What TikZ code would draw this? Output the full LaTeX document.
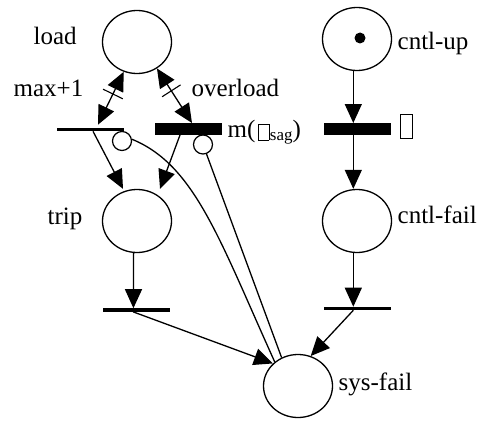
\documentclass[tikz,border=0pt]{standalone}
\usepackage{fontspec}
\setmainfont{Liberation Serif}
\usetikzlibrary{arrows.meta,shapes.geometric,calc}

% empty framed box standing in for a glyph the font could not show
\newcommand{\missingglyph}[2]{{\setlength{\fboxsep}{0pt}\setlength{\fboxrule}{0.9pt}\fbox{\rule{0pt}{#1}\hspace{#2}}}}

\begin{document}
\begin{tikzpicture}[x=1pt,y=-1pt,line width=1.3pt,
  place/.style={ellipse,draw,minimum width=69pt,minimum height=63pt,inner sep=0pt,line width=1.3pt},
  thinbar/.style={rectangle,fill=black,minimum width=67pt,minimum height=3.6pt,inner sep=0pt,outer sep=0pt},
  thickbar/.style={rectangle,fill=black,minimum width=67pt,minimum height=12pt,inner sep=0pt,outer sep=0pt},
  inhib/.style={circle,draw,fill=white,minimum size=19pt,inner sep=0pt,line width=1.2pt},
  tokendot/.style={circle,fill=black,minimum size=11pt,inner sep=0pt},
  arc/.style={-{Triangle[length=19pt,width=17pt]},line width=1.3pt},
  dblarc/.style={{Triangle[length=19pt,width=17pt]}-{Triangle[length=19pt,width=17pt]},line width=1.3pt},
  lbl/.style={font=\fontsize{25}{30}\selectfont,inner sep=0pt,anchor=base west}]

\fill[white] (0,0) rectangle (478,420);
\useasboundingbox (0,0) rectangle (478,420);

% places
\node[place] (load) at (137,42) {};
\node[place] (cntlup) at (357,39) {};
\node[place] (trip) at (137,221) {};
\node[place] (cntlfail) at (357,221) {};
\node[place] (sysfail) at (298,386) {};
\node[tokendot] (token) at (360,38) {};

% inhibitor arcs (drawn beneath the bars)
\node[inhib] (i1) at (122,141) {};
\node[inhib] (i2) at (203,144.5) {};
\draw (i1.10) .. controls (195,165) and (219.5,240) .. (sysfail.134);
\draw (i2) -- (sysfail.120);

% transitions
\node[thinbar] (t1) at (90,129.5) {};
\node[thickbar] (t2) at (188.5,129) {};
\node[thickbar] (t3) at (357,129) {};
\node[thinbar] (t4) at (136.5,310) {};
\node[thinbar] (t5) at (357,308.5) {};

% read/write arcs between load and the two upper transitions
\draw[dblarc] (load.246.6) -- ([xshift=8pt,yshift=3pt]t1.north)
  coordinate[pos=0.42] (m1);
\draw[dblarc] (load.307.6) -- ([xshift=3.5pt]t2.north)
  coordinate[pos=0.41] (m2);
\draw[line width=1.1pt] ($(m1)!11pt!90:(load.246.6)$) -- ($(m1)!11pt!-90:(load.246.6)$);
\draw[line width=1.1pt] ($(m2)!11pt!90:(load.307.6)$) -- ($(m2)!11pt!-90:(load.307.6)$);

% ordinary arcs
\draw[arc] ([xshift=3pt]t1.south) -- ([xshift=-14pt]trip.north);
\draw[arc] ([xshift=-8.5pt]t2.south) -- ([xshift=23pt]trip.north);
\draw[arc] ([xshift=-3.4pt]trip.south) -- ([xshift=-3.1pt]t4.north);
\draw[arc] ([xshift=-3.5pt]t4.south) -- (sysfail.138.5);
\draw[arc] ([xshift=-3.7pt]cntlup.south) -- ([xshift=-3.7pt]t3.north);
\draw[arc] ([xshift=-3.7pt]t3.south) -- ([xshift=-3.7pt]cntlfail.north);
\draw[arc] ([xshift=-3.7pt]cntlfail.south) -- ([xshift=-3.7pt]t5.north);
\draw[arc] ([xshift=-3.7pt]t5.south) -- (sysfail.67.5);

% labels
\node[lbl] (lload) at (33,45) {load};
\node[lbl] (lmax) at (13,96) {max+1};
\node[lbl] (lover) at (191,96) {overload};
\node[lbl] (lrate) at (227,137) {m(\hspace{3pt}\raisebox{-3pt}{\missingglyph{15.2pt}{9.2pt}}\hspace{0.5pt}\raisebox{-3pt}{\fontsize{17}{20}\selectfont sag})};
\node[lbl] (lrate2) at (399.5,138) {\missingglyph{23.2pt}{11.2pt}};
\node[lbl] (lcup) at (397,49) {cntl-up};
\node[lbl] (ltrip) at (47,224) {trip};
\node[lbl] (lcfail) at (397,223) {cntl-fail};
\node[lbl] (lsys) at (338,390) {sys-fail};
\end{tikzpicture}
\end{document}
